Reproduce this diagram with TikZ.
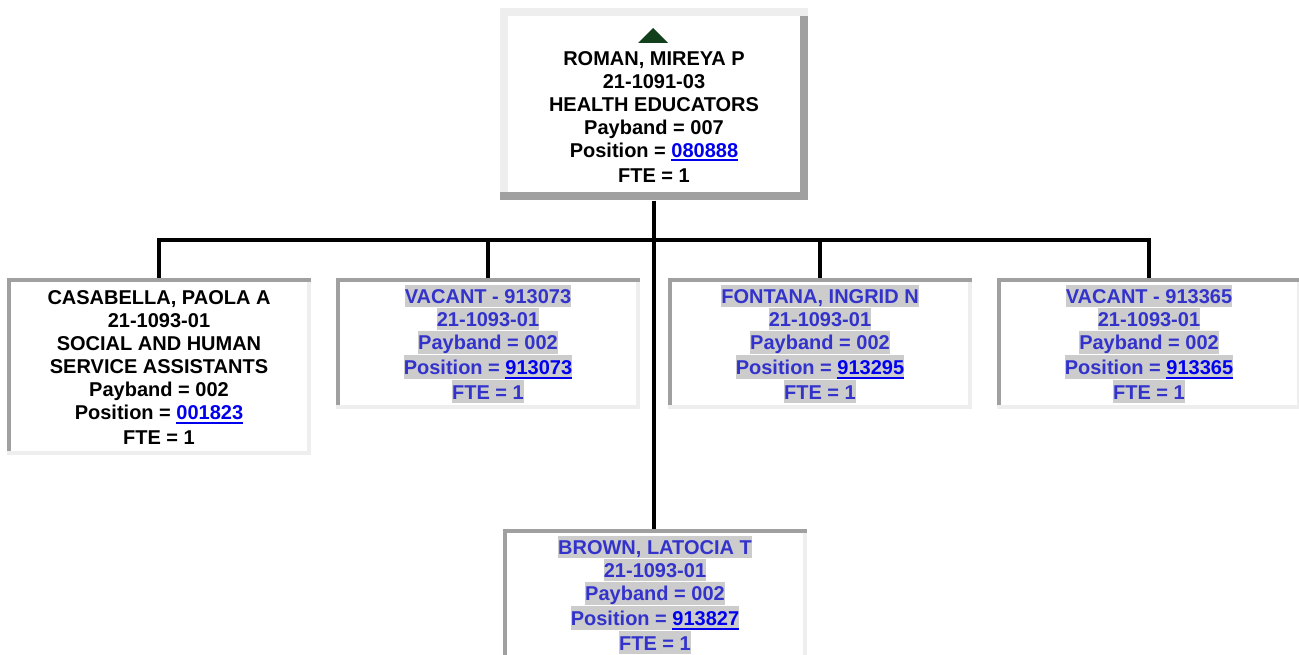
\documentclass[tikz,border=0pt]{standalone}
\usepackage{fontspec}
\setmainfont{Liberation Sans}
\usepackage{xcolor}
\usetikzlibrary{positioning}
\definecolor{edgedark}{HTML}{A0A0A0}
\definecolor{edgelight}{HTML}{EEEEEE}
\definecolor{shade}{HTML}{CCCCCC}
\definecolor{vacblue}{HTML}{3333CC}
\definecolor{linkblue}{HTML}{0000EE}
\definecolor{upgreen}{HTML}{123F1C}

\newcommand\rowstrut{\rule[-2.5pt]{0pt}{17pt}}
\newcommand\row[1]{\rowstrut#1}
\newcommand\hlt[1]{{\fboxsep=0pt\colorbox{shade}{\rowstrut#1}}}
\newcommand\posno[1]{{\color{linkblue}\setbox0=\hbox{#1}\rlap{\rule[-3.1pt]{\wd0}{1.5pt}}\box0}}

\begin{document}
\begin{tikzpicture}[
    x=0.75pt, y=-0.75pt,
    every node/.style={font=\fontsize{15pt}{17.25pt}\selectfont\bfseries},
    headbox/.style={minimum width=231pt, minimum height=144pt, inner sep=0pt,
                    align=center, anchor=north,
                    path picture={
                      \coordinate (ppa) at (path picture bounding box.north west);
                      \coordinate (ppb) at (path picture bounding box.south east);
                      \coordinate (ppc) at (ppa -| ppb);
                      \coordinate (ppd) at (ppa |- ppb);
                      \fill[edgedark] (ppa) rectangle (ppb);
                      \fill[edgelight] (ppa) rectangle ([yshift=-6pt]ppc);
                      \fill[edgelight] (ppa) rectangle ([shift={(6pt,6pt)}]ppd);
                      \fill[white] ([shift={(6pt,-6pt)}]ppa) rectangle ([shift={(-6pt,6pt)}]ppb);
                    }},
    kidbox/.style={minimum width=228pt, minimum height=#1, inner sep=0pt,
                   align=center, anchor=north,
                   path picture={
                     \coordinate (ppa) at (path picture bounding box.north west);
                     \coordinate (ppb) at (path picture bounding box.south east);
                     \coordinate (ppc) at (ppa -| ppb);
                     \coordinate (ppd) at (ppa |- ppb);
                     \fill[edgelight] (ppa) rectangle (ppb);
                     \fill[edgedark] (ppa) rectangle ([yshift=-3pt]ppc);
                     \fill[edgedark] (ppa) rectangle ([shift={(3pt,3pt)}]ppd);
                     \fill[white] ([shift={(3pt,-3pt)}]ppa) rectangle ([shift={(-3pt,3pt)}]ppb);
                   }},
    kidbox/.default=98.25pt,
    vacant/.style={text=vacblue},
    tie/.style={line width=3pt, draw=black}
]
    \path[use as bounding box] (0,0) rectangle (1299,655);
    \clip (0,0) rectangle (1299,655);

    % supervisor
    \node[headbox] (head) at (654,8)
        {\rowstrut\\\row{ROMAN, MIREYA P}\\21-1091-03\\HEALTH EDUCATORS\\
         Payband = 007\\Position = \posno{080888}\\\row{FTE = 1}};
    \fill[upgreen, shift={(head.north)}] (-16,35) -- (-1,20) -- (14,35) -- cycle;

    % staff row
    \node[kidbox=132.75pt] (casa) at (159,278)
        {\row{CASABELLA, PAOLA A}\\21-1093-01\\SOCIAL AND HUMAN\\
         SERVICE ASSISTANTS\\Payband = 002\\Position = \posno{001823}\\\row{FTE = 1}};
    \node[kidbox, vacant] (vac1) at (488,278)
        {\hlt{VACANT - 913073}\\\hlt{21-1093-01}\\\hlt{Payband = 002}\\
         \hlt{Position = \posno{913073}}\\\hlt{FTE = 1}};
    \node[kidbox, vacant] (fontana) at (820,278)
        {\hlt{FONTANA, INGRID N}\\\hlt{21-1093-01}\\\hlt{Payband = 002}\\
         \hlt{Position = \posno{913295}}\\\hlt{FTE = 1}};
    \node[kidbox, vacant] (vac2) at (1149,278)
        {\hlt{VACANT - 913365}\\\hlt{21-1093-01}\\\hlt{Payband = 002}\\
         \hlt{Position = \posno{913365}}\\\hlt{FTE = 1}};
    \node[kidbox, vacant] (brown) at (655,529)
        {\hlt{BROWN, LATOCIA T}\\\hlt{21-1093-01}\\\hlt{Payband = 002}\\
         \hlt{Position = \posno{913827}}\\\hlt{FTE = 1}};

    % reporting lines
    \coordinate (bar) at (654,240);
    \draw[tie] (head.south) -- (head.south |- brown.north);
    \draw[tie] (casa.north) |- (bar) -| (vac2.north);
    \draw[tie] (vac1.north) -- (vac1.north |- bar);
    \draw[tie] (fontana.north) -- (fontana.north |- bar);
\end{tikzpicture}
\end{document}
